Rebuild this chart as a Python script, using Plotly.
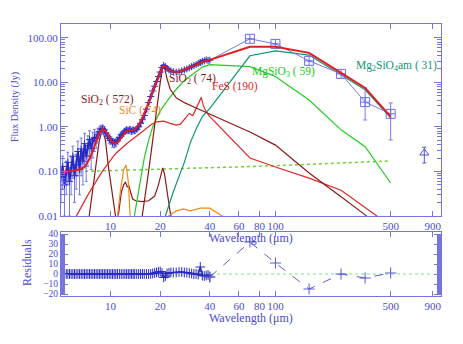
import math
import plotly.graph_objects as go

# ---------------- data ----------------
# ISO-SWS spectrum (micron, Jy)
sws_wl = [5.00, 5.12, 5.25, 5.38, 5.50, 5.63, 5.76, 5.90, 6.04, 6.18,
          6.33, 6.48, 6.63, 6.79, 6.95, 7.11, 7.28, 7.45, 7.62, 7.80,
          7.98, 8.17, 8.36, 8.55, 8.75, 8.95, 9.16, 9.37, 9.59, 9.81,
          10.04, 10.27, 10.51, 10.75, 11.0, 11.3, 11.6, 11.9, 12.2, 12.5,
          12.8, 13.1, 13.4, 13.7, 14.0, 14.4, 14.8, 15.2, 15.6, 16.0,
          16.5, 17.0, 17.5, 18.0, 18.5, 19.0, 19.5, 20.0, 20.5, 21.0,
          21.5, 22.0, 22.6, 23.2, 24.0, 25.0, 26.0, 27.0, 28.0, 29.0,
          30.0, 31.0, 32.0, 33.0, 34.0, 35.0, 36.0, 37.0, 38.0, 39.0,
          40.0]
sws_flux = [0.07, 0.13, 0.05, 0.10, 0.16, 0.06, 0.12, 0.22, 0.08, 0.14,
            0.28, 0.11, 0.32, 0.17, 0.42, 0.22, 0.38, 0.52, 0.33, 0.48,
            0.58, 0.55, 0.68, 0.78, 0.88, 0.92, 0.85, 0.72, 0.62, 0.55,
            0.50, 0.45, 0.43, 0.45, 0.50, 0.58, 0.66, 0.72, 0.80, 0.86,
            0.82, 0.88, 0.80, 0.86, 0.82, 0.90, 1.00, 1.20, 1.45, 1.80,
            2.5, 3.5, 4.8, 6.4, 8.2, 10.5, 13.5, 17.0, 21.5, 24.0,
            22.5, 20.5, 19.0, 18.0, 17.3, 17.0, 17.3, 18.0, 19.0, 20.0,
            21.2, 22.5, 23.8, 25.0, 26.5, 28.0, 29.5, 30.5, 32.0, 31.0,
            31.5]
sws_err = [0.05, 0.09, 0.04, 0.07, 0.11, 0.05, 0.09, 0.15, 0.06, 0.10,
           0.20, 0.08, 0.24, 0.12, 0.30, 0.16, 0.25, 0.30, 0.22, 0.28,
           0.30, 0.22, 0.25, 0.22, 0.20, 0.18, 0.16, 0.15, 0.13, 0.12,
           0.10, 0.10, 0.09, 0.09, 0.09, 0.10, 0.10, 0.11, 0.12, 0.12,
           0.11, 0.12, 0.11, 0.11, 0.11, 0.12, 0.13, 0.15, 0.17, 0.20,
           0.25, 0.30, 0.35, 0.45, 0.50, 0.60, 0.70, 0.80, 1.00, 1.10,
           1.00, 0.90, 0.80, 0.80, 0.80, 0.80, 0.80, 0.90, 0.90, 1.00,
           1.00, 1.10, 1.10, 1.20, 1.20, 3.50, 1.30, 1.40, 1.40, 1.50,
           1.50]
sws_resid = [0, 0, 0, 0, 0, 0, 0, 0, 0, 0,
             0, 0, 0, 0, 0, 0, 0, 0, 0, 0,
             0, 0, 0, 0, 0, 0, 0, 0, 0, 0,
             0, 0, 0, 0, 0, 0, 0, 0, 0, 0,
             0, 0, 0, 0, 0, 0, 0, 0, 0, 0,
             0, 0, 0, 0.5, 1, 1.5, 2, 2.5, 1, -3.5,
             -2, 0.5, 1, 1.5, 1.5, 1.5, 2, 2, 1.5, 1.5,
             1, 0.5, 0, 0, -0.5, 7, -1.5, -2, -1.5, -1,
             -3]

# far-IR photometry
phot_wl = [70, 100, 160, 250, 350, 500]
phot_flux = [95, 73, 30.4, 15.5, 3.6, 1.96]
phot_err_up = [0, 0, 0, 0, 3.9, 1.5]
phot_err_dn = [0, 0, 0, 0, 2.17, 1.45]
phot_resid = [32, 11, -15, 0, -4, 1]

# sub-mm point
mm_wl = [800]
mm_flux = [0.26]
mm_err_up = [0.09]
mm_err_dn = [0.105]

# total model
model_wl = [5.0, 5.5, 6.0, 6.5, 7.0, 7.5, 8.0, 8.5, 8.9, 9.3,
            9.7, 10.2, 10.7, 11.2, 11.8, 12.3, 12.8, 13.3, 13.8, 14.3,
            15.0, 15.6, 16.2, 17.0, 17.8, 18.5, 19.2, 20.0, 20.5, 21.0,
            21.5, 22.2, 23.0, 24.0, 25.0, 26.5, 28.0, 30.0, 32.0, 34.0,
            36.0, 38.0, 40.0, 70, 100, 160, 250, 350, 500]
model_flux = [0.10, 0.10, 0.105, 0.11, 0.13, 0.20, 0.38, 0.70, 0.90, 0.82,
              0.62, 0.46, 0.42, 0.48, 0.62, 0.78, 0.84, 0.84, 0.85, 0.95,
              1.2, 1.6, 2.2, 3.5, 5.5, 8.0, 11.5, 17.0, 21.0, 23.5,
              22.5, 20.0, 18.2, 17.2, 17.0, 17.6, 19.0, 21.5, 23.8, 26.2,
              29.0, 31.0, 32.0, 63, 63, 46, 16.4, 7.5, 1.7]

# components
fes_wl = [6.0, 6.2, 7.4, 8.9, 10.7, 12.5, 14.2, 16.0, 17.5, 19.0,
          21.0, 23.0, 25.0, 26.5, 28.0, 30.0, 31.5, 33.0, 34.5, 35.5,
          36.5, 38.0, 40.0, 70, 100, 160, 250, 350, 500]
fes_flux = [0.006, 0.01, 0.033, 0.1, 0.25, 0.42, 0.6, 0.85, 1.1, 1.3,
            1.35, 1.2, 1.1, 1.15, 1.5, 2.0, 1.8, 2.6, 3.8, 4.6,
            3.0, 2.2, 1.7, 0.2, 0.126, 0.071, 0.038, 0.016, 0.006]

sic_wl = [10.4, 11.0, 11.5, 12.0, 12.4, 12.8, 13.1, 13.4, 20.5, 22.4,
          25.0, 27.6, 30.4, 35.0, 40.0, 70.0]
sic_flux = [0.001, 0.01, 0.04, 0.11, 0.14, 0.06, 0.012, 0.002, 0.002, 0.01,
            0.013, 0.0144, 0.013, 0.015, 0.015, 0.004]

sio2a_wl = [7.0, 7.4, 7.8, 8.1, 8.5, 8.9, 9.3, 9.7, 10.3, 10.8,
            11.2, 11.6, 12.0, 12.3, 12.6, 12.9, 13.2, 13.6, 14.2, 15.5,
            17.0, 18.5, 19.5, 20.2, 20.7, 21.2, 22.0, 23.0, 24.5]
sio2a_flux = [0.002, 0.01, 0.045, 0.127, 0.45, 0.88, 0.5, 0.127, 0.03, 0.008,
              0.012, 0.033, 0.05, 0.058, 0.045, 0.048, 0.035, 0.024, 0.022, 0.021,
              0.022, 0.028, 0.05, 0.09, 0.12, 0.09, 0.035, 0.012, 0.004]

sio2b_wl = [15.0, 16.0, 17.0, 18.0, 19.0, 20.0, 20.7, 21.3, 22.0, 23.0,
            25.0, 28.0, 32.0, 36.0, 40.0, 70, 100, 160, 250, 350, 500]
sio2b_flux = [0.004, 0.02, 0.1, 0.5, 2.5, 10.0, 22.0, 20.0, 12.0, 7.0,
              4.5, 3.5, 2.8, 2.3, 2.0, 0.77, 0.39, 0.092, 0.027, 0.0106, 0.003]

mgsio3_wl = [13.5, 14.0, 15.0, 16.0, 17.0, 18.0, 19.0, 20.0, 22.0, 25.0,
             28.0, 32.0, 36.0, 40.0, 70, 100, 160, 250, 350, 500]
mgsio3_flux = [0.005, 0.012, 0.05, 0.2, 0.5, 1.0, 1.6, 2.3, 3.8, 7.0,
               11.0, 16.0, 22.0, 25.0, 22.5, 13.5, 4.0, 0.86, 0.36, 0.055]

mg2sio4_wl = [20.0, 21.5, 24.0, 26.0, 28.0, 30.5, 33.0, 36.0, 40.0, 70,
              100, 160, 250, 350, 500]
mg2sio4_flux = [0.003, 0.01, 0.035, 0.08, 0.16, 0.45, 0.9, 1.7, 2.6, 39.5,
                51.0, 41.0, 14.7, 6.8, 1.6]

cont_wl = [5, 20, 93, 500]
cont_flux = [0.097, 0.114, 0.133, 0.172]

x_ticks = [10, 20, 40, 60, 80, 100, 500, 900]
y_ticks = [0.01, 0.1, 1, 10, 100]
y_ticktext = ["0.01", "0.10", "1.00", "10.00", "100.00"]
r_ticks = [-20, -10, 0, 10, 20, 30, 40]
r_ticktext = ["\u221220", "\u221210", "0", "10", "20", "30", "40"]

labels = [
    ("SiO<sub>2</sub> ( 572)", "#8b1a1a", 79, 100),
    ("SiC ( 74)", "#f08a1c", 117, 110),
    ("SiO<sub>2</sub> ( 74)", "#8b1a1a", 167, 79),
    ("FeS (190)", "#e02828", 210, 87),
    ("MgSiO<sub>3</sub> ( 59)", "#20c820", 250, 72),
    ("Mg<sub>2</sub>SiO<sub>4</sub>am ( 31)", "#129474", 354, 66),
]

# ---------------- styles ----------------
AX = "#7474e4"
TX = "#4a4ad2"
FONT = "Liberation Serif"
OFF = 8                      # default page body margin
W, H = 463 - 2 * OFF, 344 - 2 * OFF
L, T = 61 - OFF, 24 - OFF
R = W - (441 - OFF)
B = H - (296 - OFF)
PW, PH = W - L - R, H - T - B


def px(x):
    return (x - 61) / PW


def py(y):
    return (296 - y) / PH


fig = go.Figure()


def line(xs, ys, color, width=1.0, dash="solid", axes=("x", "y")):
    fig.add_trace(go.Scatter(x=xs, y=ys, mode="lines",
                             line=dict(color=color, width=width, dash=dash),
                             xaxis=axes[0], yaxis=axes[1], hoverinfo="skip"))


line(cont_wl, cont_flux, "#6ad43a", 1.5, "dot")
line(sio2a_wl, sio2a_flux, "#8b1a1a", 1.2)
line(sic_wl, sic_flux, "#f08a1c", 1.2)
line(mgsio3_wl, mgsio3_flux, "#22cc22", 1.2)
line(mg2sio4_wl, mg2sio4_flux, "#129474", 1.2)
line(fes_wl, fes_flux, "#e02828", 1.2)
line(sio2b_wl, sio2b_flux, "#8b1a1a", 1.2)

# spectrum with error bars
fig.add_trace(go.Scatter(
    x=sws_wl, y=sws_flux, mode="lines+markers",
    line=dict(color="#2a2ac4", width=2),
    marker=dict(symbol="cross-thin", size=5, line=dict(color="#2a2ac4", width=1)),
    error_y=dict(type="data", array=sws_err, color="#7878e6", thickness=1, width=1.5),
    hoverinfo="skip"))

# link spectrum -> photometry
fig.add_trace(go.Scatter(
    x=[sws_wl[-1]] + phot_wl, y=[sws_flux[-1]] + phot_flux, mode="lines",
    line=dict(color="#7b7bea", width=1), hoverinfo="skip"))
fig.add_trace(go.Scatter(
    x=phot_wl, y=phot_flux, mode="markers",
    marker=dict(symbol="square-cross-open", size=9, color="#6e6ee6", line=dict(width=1)),
    error_y=dict(type="data", symmetric=False, array=phot_err_up, arrayminus=phot_err_dn,
                 color="#7b7bea", thickness=1, width=2),
    hoverinfo="skip"))
fig.add_trace(go.Scatter(
    x=mm_wl, y=mm_flux, mode="markers",
    marker=dict(symbol="triangle-up-open", size=8, color="#5050d4", line=dict(width=1)),
    error_y=dict(type="data", symmetric=False, array=mm_err_up, arrayminus=mm_err_dn,
                 color="#5050d4", thickness=1, width=2),
    hoverinfo="skip"))

# total model
line(model_wl, model_flux, "#e01e1e", 2.0)

# residuals
fig.add_trace(go.Scatter(
    x=sws_wl, y=sws_resid, mode="lines+markers", xaxis="x2", yaxis="y2",
    line=dict(color="#2a2ac4", width=1.5),
    marker=dict(symbol="cross-thin", size=7, line=dict(color="#2a2ac4", width=1)),
    hoverinfo="skip"))
fig.add_trace(go.Scatter(
    x=[sws_wl[-1]] + phot_wl, y=[sws_resid[-1]] + phot_resid, mode="lines+markers",
    xaxis="x2", yaxis="y2",
    line=dict(color="#5a5ad8", width=1, dash="dash"),
    marker=dict(symbol="cross-thin", size=8, line=dict(color="#5a5ad8", width=1)),
    hoverinfo="skip"))

xr = [math.log10(5), math.log10(1010)]
tickfont = dict(family=FONT, size=11, color=TX)
rtickfont = dict(family=FONT, size=9.5, color=TX)
ymin_t = [m * 10 ** e for e in range(-2, 3) for m in range(2, 10)]

common_x = dict(type="log", range=xr, tickvals=x_ticks, ticktext=[str(v) for v in x_ticks],
                tickangle=0, ticks="inside", ticklen=5, tickcolor=AX, showline=True,
                linecolor=AX, linewidth=1, mirror="ticks", showgrid=False, zeroline=False,
                tickfont=tickfont, domain=[0, 1])

fig.update_layout(
    width=W, height=H, margin=dict(l=L, r=R, t=T, b=B),
    paper_bgcolor="white", plot_bgcolor="white", showlegend=False,
    xaxis=dict(anchor="y", **common_x),
    xaxis2=dict(anchor="y2", **common_x),
    yaxis=dict(type="log", range=[-2, 2.31], domain=[80 / PH, 1], anchor="x",
               tickvals=y_ticks, ticktext=y_ticktext, ticks="inside", ticklen=7,
               tickcolor=AX, showline=True, linecolor=AX, mirror="ticks",
               showgrid=False, zeroline=False, tickfont=tickfont,
               minor=dict(tickvals=ymin_t, ticks="inside", ticklen=4, tickcolor=AX)),
    yaxis2=dict(range=[-22, 42], domain=[0, 64 / PH], anchor="x2",
                tickvals=r_ticks, ticktext=r_ticktext, ticks="inside", ticklen=7,
                tickcolor=AX, showline=True, linecolor=AX, mirror="ticks",
                showgrid=False, zeroline=False, tickfont=rtickfont,
                minor=dict(dtick=1, ticks="inside", ticklen=4, tickcolor=AX)),
    shapes=[dict(type="line", xref="x2 domain", yref="y2", x0=0, x1=0.98, y0=0, y1=0,
                 line=dict(color="#7ee07e", width=1, dash="dot"), layer="below")],
)

ann = []
for text, color, x, y in labels:
    ann.append(dict(text=text, x=px(x), y=py(y), xref="paper", yref="paper",
                    xanchor="left", yanchor="middle", showarrow=False,
                    font=dict(family=FONT, size=11.5, color=color)))
title_font = dict(family=FONT, size=12, color=TX)
ann.append(dict(text="Flux Density (Jy)", x=px(15), y=py(107), xref="paper", yref="paper",
                xanchor="center", yanchor="middle",
                textangle=-90, showarrow=False, font=dict(family=FONT, size=10, color=TX)))
ann.append(dict(text="Residuals", x=px(27), y=py(263), xref="paper", yref="paper",
                xanchor="center", yanchor="middle",
                textangle=-90, showarrow=False, font=title_font))
ann.append(dict(text="Wavelength (\u03bcm)", x=px(251), y=py(238), xref="paper", yref="paper",
                xanchor="center", yanchor="middle", showarrow=False, font=title_font))
ann.append(dict(text="Wavelength (\u03bcm)", x=px(251), y=py(318), xref="paper", yref="paper",
                xanchor="center", yanchor="middle", showarrow=False, font=title_font))
fig.update_layout(annotations=ann)

fig.write_html("out.html")
